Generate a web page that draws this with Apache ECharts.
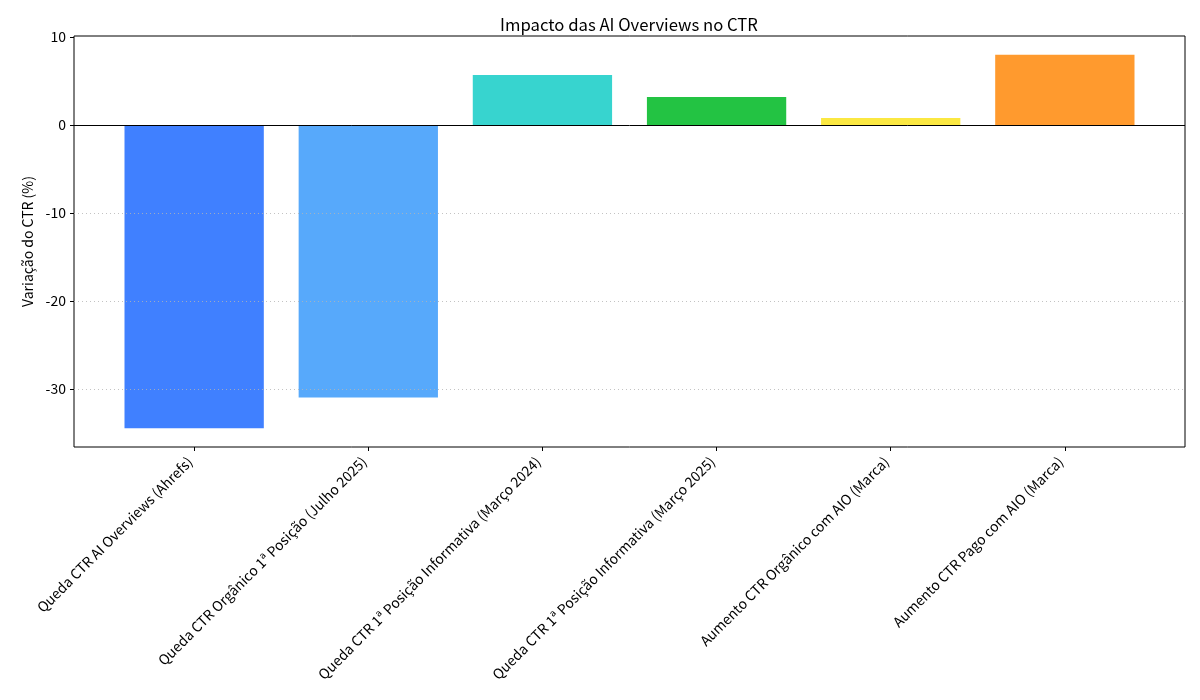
<!DOCTYPE html>
<html><head><meta charset="utf-8">
<script src="https://cdn.jsdelivr.net/npm/echarts@6/dist/echarts.min.js"></script>
<style>html,body{margin:0;padding:0;background:#fff}#c{width:1200px;height:700px}</style>
</head><body><div id="c"></div>
<script>
const categories = [
  "Queda CTR AI Overviews (Ahrefs)",
  "Queda CTR Orgânico 1ª Posição (Julho 2025)",
  "Queda CTR 1ª Posição Informativa (Março 2024)",
  "Queda CTR 1ª Posição Informativa (Março 2025)",
  "Aumento CTR Orgânico com AIO (Marca)",
  "Aumento CTR Pago com AIO (Marca)"
];
const values = [-34.5, -31.0, 5.7, 3.2, 0.8, 8.0];
const colors = ["#4080FF", "#57A9FB", "#37D4CF", "#23C343", "#FBE842", "#FF9A2E"];
const yTicks = [-30, -20, -10, 0, 10];
const gridLines = [-30, -20, -10];
const xTicks = [0, 1, 2, 3, 4, 5];

const FONT = "'Noto Sans CJK SC', 'Noto Sans', sans-serif";
const chart = echarts.init(document.getElementById('c'), null, {renderer: 'canvas'});
chart.setOption({
  animation: false,
  textStyle: {fontFamily: FONT},
  title: {
    text: "Impacto das AI Overviews no CTR",
    left: 624, top: 11, textAlign: 'center',
    textStyle: {fontFamily: FONT, fontSize: 16.7, fontWeight: 'normal', color: '#000'}
  },
  grid: {left: 74, right: 15, top: 36, bottom: 253, show: true, borderColor: '#000', borderWidth: 1, backgroundColor: 'transparent'},
  xAxis: {
    type: 'value', min: -0.69, max: 5.69,
    axisLine: {show: false, onZero: false},
    splitLine: {show: false},
    axisTick: {show: true, customValues: xTicks, length: 4, lineStyle: {color: '#000'}},
    axisLabel: {
      customValues: xTicks, rotate: 45, fontSize: 14, color: '#000', fontFamily: FONT, margin: 8,
      padding: [0, 6, 0, 0],
      formatter: v => categories[Math.round(v)] || ''
    }
  },
  yAxis: {
    type: 'value', min: -36.625, max: 10.125,
    name: "Variação do CTR (%)", nameLocation: 'middle', nameGap: 38, nameRotate: 90,
    nameTextStyle: {fontSize: 14, color: '#000', fontFamily: FONT},
    axisLine: {show: false, onZero: false},
    splitLine: {show: false},
    axisTick: {show: true, customValues: yTicks, length: 4, lineStyle: {color: '#000'}},
    axisLabel: {customValues: yTicks, fontSize: 14, color: '#000', fontFamily: FONT, margin: 8}
  },
  series: [{
    type: 'bar',
    barWidth: '80%',
    data: values.map((v, i) => ({value: [i, v], itemStyle: {color: colors[i]}})),
    markLine: {
      silent: true, symbol: 'none', label: {show: false},
      data: gridLines.map(g => ({yAxis: g, lineStyle: {color: 'rgba(180,180,180,0.8)', type: [1, 3], width: 1}}))
        .concat([{yAxis: 0, lineStyle: {color: '#000', type: 'solid', width: 1}}])
    }
  }]
});
</script>
</body></html>
